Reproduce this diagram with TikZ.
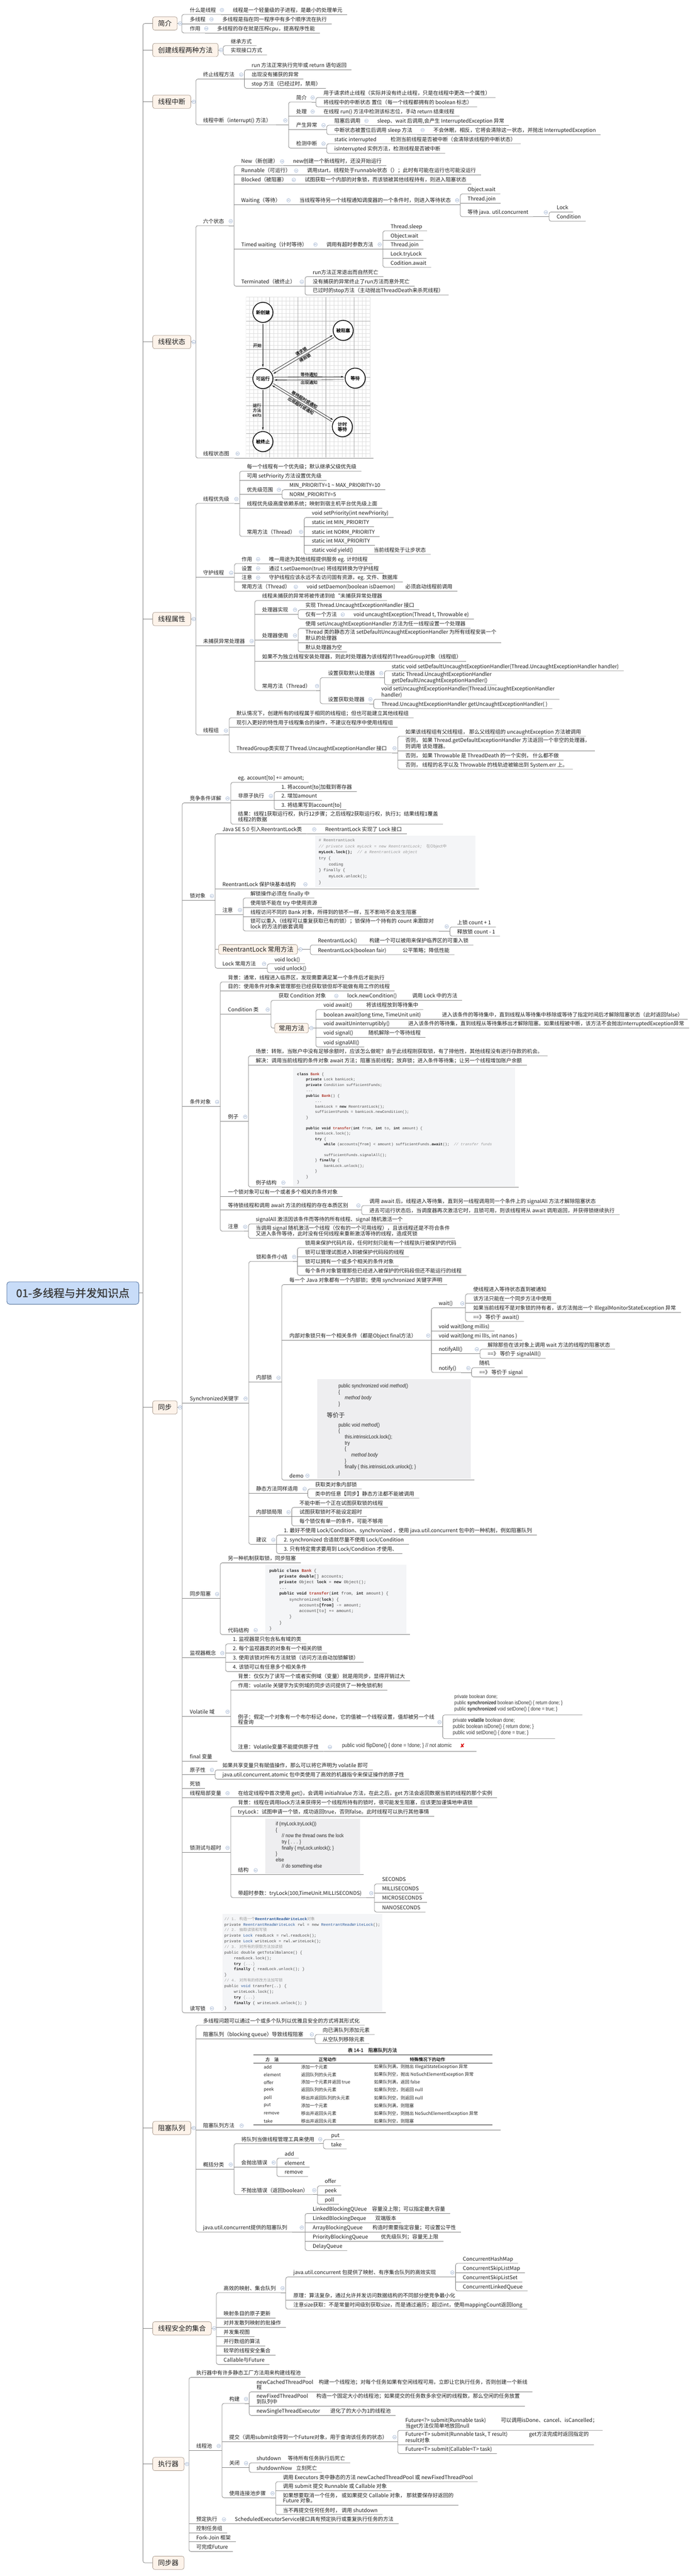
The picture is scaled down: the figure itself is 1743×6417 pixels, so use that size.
\documentclass[tikz,border=0pt]{standalone}
\usepackage{fontspec}
\usetikzlibrary{calc,arrows.meta,shadows}
\newfontfamily\cjk{Noto Sans CJK SC}
\newfontfamily\cjkb[FakeBold=1.2]{Noto Sans CJK SC}
\newfontfamily\mono{Liberation Mono}
\newfontfamily\cond[FakeStretch=0.86]{Liberation Sans}
\newfontfamily\dejavu{DejaVu Sans}
\definecolor{lc}{HTML}{828282}
\definecolor{txt}{HTML}{1E1E1E}
\definecolor{boxfill}{HTML}{FDF3EA}
\definecolor{boxdraw}{HTML}{A8998C}
\definecolor{rootfill}{HTML}{C8DCF8}
\definecolor{rootdraw}{HTML}{50709C}
\definecolor{roottxt}{HTML}{3A3A3A}
\definecolor{clc}{HTML}{9FB3D1}
\definecolor{codebg}{HTML}{F4F5F7}
\definecolor{imgbg}{HTML}{EEEEF0}
\definecolor{codetx}{HTML}{4A4A4A}
\definecolor{codekw}{HTML}{222222}
\definecolor{codecm}{HTML}{9A9A9A}
\definecolor{codecls}{HTML}{B03A2E}
\definecolor{codetype}{HTML}{2F5D9E}
\tikzset{
 tp/.style={inner sep=0pt, anchor=south west, text height=10pt, text depth=3pt, font=\cjk\fontsize{13pt}{14pt}\selectfont, text=txt},
 tpm/.style={inner sep=0pt, anchor=south west, align=left, text depth=3pt, font=\cjk\fontsize{13pt}{13pt}\selectfont, text=txt},
 ln/.style={draw=lc, line width=1pt},
 mainbox/.style={draw=boxdraw, fill=boxfill, rounded corners=5pt, line width=0.9pt, minimum height=33pt, inner xsep=13.5pt, inner ysep=0pt, font=\cjk\fontsize{17pt}{17pt}\selectfont, text=txt, anchor=west},
 subbox/.style={mainbox, minimum height=24pt, inner xsep=10pt, font=\cjk\fontsize{16pt}{16pt}\selectfont},
 rootbox/.style={draw=rootdraw, fill=rootfill, rounded corners=7pt, line width=1.1pt, minimum width=329pt, minimum height=56pt, inner sep=0pt, font=\cjkb\fontsize{27pt}{27pt}\selectfont, text=roottxt},
 code/.style={inner sep=0pt, anchor=north west, align=left, text=codetx},
 stc/.style={circle, draw=black, line width=1.8pt, fill=white, minimum size=50pt, inner sep=0pt, font=\cjkb\fontsize{11.5pt}{12.5pt}\selectfont, align=center, drop shadow={opacity=0.45, shadow xshift=2pt, shadow yshift=-2pt}},
 sta/.style={-{Stealth[length=7pt,width=4pt]}, line width=0.8pt, shorten >=3pt, shorten <=3pt},
 stl/.style={inner sep=1pt, font=\cjkb\fontsize{10.5pt}{12pt}\selectfont, text=black!80},
 tcell/.style={anchor=west, inner sep=0pt, font=\cjk\fontsize{11pt}{12pt}\selectfont, text=black!85},
}
\newcommand\T[4]{\node[tp] (#1) at (#2,#3+8) {#4}; \coordinate (#1-e) at ([xshift=12pt,yshift=-3pt]#1.south east);}
\newcommand\TT[6]{\T{#1}{#2}{#4}{\makebox[\dimexpr#3pt-#2pt\relax][l]{#5}#6}}
\newcommand\M[4]{\node[tpm] (#1) at (#2,#3-3) {#4}; \coordinate (#1-e) at ([xshift=12pt,yshift=-3pt]#1.south east);}
\newcommand\B[3]{\node[mainbox] (#1) at (380,#2) {#3}; \coordinate (#1-e) at (#1.west);}
\newcommand\img[8]{\fill[#6] (#2,#3) rectangle (#4,#5); \coordinate (#1-e) at (#7,#8);}
\newcommand\cl[1]{\path #1 coordinate (tmp); \fill[white] (tmp) circle (4.5pt); \draw[clc, line width=0.8pt] (tmp) circle (4.5pt); \draw[clc, line width=0.9pt] ([xshift=-2.6pt]tmp) -- ([xshift=2.6pt]tmp);}
\newcommand\kids[3]{%
  \coordinate (sp) at (#2,0);
  \draw[ln] (#1) -- (sp |- #1);
  \foreach \c [count=\i] in {#3} {\ifnum\i=1 \xdef\kfirst{\c}\fi \xdef\klast{\c}\xdef\kn{\i}}%
  \ifnum\kn=1\relax
    \draw[ln] (sp |- \kfirst-e) -- (\kfirst-e);
  \else
    \draw[ln, rounded corners=5pt] (\kfirst-e) -- (sp |- \kfirst-e) -- (sp |- \klast-e) -- (\klast-e);
    \foreach \c [count=\i] in {#3} {\ifnum\i>1 \ifnum\i<\kn\relax \draw[ln] (sp |- \c-e) -- (\c-e);\fi\fi}%
  \fi}
\newcommand\ktext[3]{\kids{#1-e}{#2}{#3}\cl{($(sp |- #1-e)+(-8,-11)$)}}
\newcommand\kbox[3]{\kids{#1.east}{#2}{#3}\cl{($(#1.east)+(7,0)$)}}
\newcommand\kw[1]{{\bfseries\color{codekw}#1}}
\newcommand\cn[1]{{\bfseries\color{codecls}#1}}
\newcommand\cm[1]{{\itshape\color{codecm}#1}}
\newcommand\ty[1]{{\color{codetype}#1}}
\newcommand\trow[5]{\node[tcell] (t#1a) at (657,#2) {#3}; \node[tcell] (t#1b) at (750,#2) {#4}; \node[tcell] (t#1c) at (932,#2) {#5};}
\begin{document}
\begin{tikzpicture}[x=1pt,y=-1pt]
\useasboundingbox (0,0) rectangle (1743,6417);
\fill[white] (0,0) rectangle (1743,6417);

% ---------- root and main branches
\node[rootbox] (root) at (181.5,3221) {01-多线程与并发知识点};
\B{jj}{58.5}{简介}
\B{cj}{124.5}{创建线程两种方法}
\B{zd}{253.5}{线程中断}
\B{zt}{852}{线程状态}
\B{sx}{1542}{线程属性}
\B{tb}{3506}{同步}
\B{zs}{5301}{阻塞队列}
\B{aq}{5800}{线程安全的集合}
\B{zx}{6138}{执行器}
\B{tq}{6384}{同步器}
\kids{root.east}{356}{jj,cj,zd,zt,sx,tb,zs,aq,zx,tq}

% ---------- 简介
\T{j1}{473}{25}{什么是线程}
\T{j1a}{580}{25}{线程是一个轻量级的子进程，是最小的处理单元}
\T{j2}{473}{48}{多线程}
\T{j2a}{554}{48}{多线程是指在同一程序中有多个顺序流在执行}
\T{j3}{473}{71}{作用}
\T{j3a}{541}{71}{多线程的存在就是压榨cpu，提高程序性能}
\kbox{jj}{453}{j1,j2,j3}
\ktext{j1}{561}{j1a}
\ktext{j2}{535}{j2a}
\ktext{j3}{522}{j3a}

% ---------- 创建线程两种方法
\T{c1}{575}{103}{继承方式}
\T{c2}{575}{126}{实现接口方式}
\kbox{cj}{556}{c1,c2}

% ---------- 线程中断
\T{b1}{506}{186}{终止线程方法}
\T{b11}{627}{163}{run 方法正常执行完毕或 return 语句返回}
\T{b12}{627}{186}{出现没有捕获的异常}
\T{b13}{627}{209}{stop 方法（已经过时，禁用）}
\T{b2}{506}{300}{线程中断（interrupt() 方法）}
\T{b21}{738}{243}{简介}
\T{b211}{806}{232}{用于请求终止线程（实际并没有终止线程，只是在线程中更改一个属性）}
\T{b212}{806}{255}{将线程中的中断状态 置位（每一个线程都拥有的 boolean 标志）}
\T{b22}{738}{278}{处理}
\T{b221}{806}{278}{在线程 run() 方法中检测该标志位，手动 return 结束线程}
\T{b23}{738}{312}{产生异常}
\T{b231}{833}{301}{阻塞后调用}
\T{b231a}{940}{301}{sleep、wait 后调用,会产生 InterruptedException 异常}
\T{b232}{833}{324}{中断状态被置位后调用 sleep 方法}
\T{b232a}{1080}{324}{不会休眠，相反，它将会清除这一状态，并抛出 InterruptedException}
\T{b24}{738}{358}{检测中断}
\TT{b241}{833}{973}{347}{static interrupted}{检测当前线程是否被中断（会清除该线程的中断状态）}
\T{b242}{833}{371}{isInterrupted 实例方法，检测线程是否被中断}
\kbox{zd}{488}{b1,b2}
\ktext{b1}{609}{b11,b12,b13}
\ktext{b2}{719}{b21,b22,b23,b24}
\ktext{b21}{787}{b211,b212}
\ktext{b22}{787}{b221}
\ktext{b23}{814}{b231,b232}
\ktext{b231}{921}{b231a}
\ktext{b232}{1061}{b232a}
\ktext{b24}{814}{b241,b242}

% ---------- 线程状态
\T{s1}{506}{551}{六个状态}
\T{s11}{601}{402}{New（新创建）}
\T{s11a}{730}{402}{new创建一个新线程时，还没开始运行}
\T{s12}{601}{425}{Runnable（可运行）}
\T{s12a}{765}{425}{调用start，线程处于runnable状态（）；此时有可能在运行也可能没运行}
\T{s13}{601}{448}{Blocked（被阻塞）}
\T{s13a}{759}{448}{试图获取一个内部的对象锁，而该锁被其他线程持有，则进入阻塞状态}
\T{s14}{601}{499}{Waiting（等待）}
\T{s14a}{746}{499}{当线程等待另一个线程通知调度器的一个条件时，则进入等待状态}
\T{s141}{1165}{472}{Object.wait}
\T{s142}{1165}{495}{Thread.join}
\T{s143}{1165}{529}{等待 java. util.concurrent}
\T{s1431}{1387}{517}{Lock}
\T{s1432}{1387}{540}{Condition}
\T{s15}{601}{609}{Timed waiting（计时等待）}
\T{s15a}{813}{609}{调用有超时参数方法}
\T{s151}{973}{564}{Thread.sleep}
\T{s152}{973}{587}{Object.wait}
\T{s153}{973}{609}{Thread.join}
\T{s154}{973}{633}{Lock.tryLock}
\T{s155}{973}{655}{Codition.await}
\T{s16}{601}{702}{Terminated（被终止）}
\T{s161}{779}{678}{run方法正常退出而自然死亡}
\T{s162}{779}{702}{没有捕获的异常终止了run方法而意外死亡}
\T{s163}{779}{724}{已过时的stop方法（主动抛出ThreadDeath来杀死线程）}
\T{s2}{506}{1130}{线程状态图}
% state diagram picture
\img{sd}{613}{740}{923}{1139}{white}{931}{1141}
\begin{scope}
\clip (613,740) rectangle (923,1139);
\foreach \x in {612,622,...,922} \draw[black!12, line width=0.5pt] (\x,740) -- (\x,1139);
\foreach \y in {740,750,...,1139} \draw[black!12, line width=0.5pt] (613,\y) -- (923,\y);
\foreach \x in {672,742,812,882} \draw[black!30, line width=0.8pt] (\x,740) -- (\x,1139);
\foreach \y in {800,870,940,1010,1080} \draw[black!30, line width=0.8pt] (613,\y) -- (923,\y);
\end{scope}
\node[stc] (sn1) at (655,778) {新创建};
\node[stc] (sn2) at (855,823) {被阻塞};
\node[stc] (sn3) at (655,943) {可运行};
\node[stc] (sn4) at (885,942) {等待};
\node[stc] (sn5) at (853,1063) {计时\\等待};
\node[stc] (sn6) at (655,1100) {被终止};
\draw[sta] (sn1) -- node[stl, left=2pt] (sl0) {开始} (sn3);
\draw[sta] (sn3.38) -- node[stl, midway, sloped, above] (sl1) {请求锁} (sn2.204);
\draw[sta] (sn2.218) -- node[stl, midway, sloped, below] (sl2) {得到锁} (sn3.24);
\draw[sta] (sn3.8) -- node[stl, midway, above] (sl3) {等待通知} (sn4.172);
\draw[sta] (sn4.188) -- node[stl, midway, below] (sl4) {出现通知} (sn3.352);
\draw[sta] (sn3.-25) -- node[stl, midway, sloped, above] (sl5) {等待超时或通知} (sn5.143);
\draw[sta] (sn5.155) -- node[stl, midway, sloped, below] (sl6) {出现超时或通知} (sn3.-37);
\draw[sta] (sn3) -- node[stl, left=2pt, align=center] (sl7) {运行\\方法\\exits} (sn6);
\kbox{zt}{488}{s1,s2}
\ktext{s1}{583}{s11,s12,s13,s14,s15,s16}
\ktext{s11}{711}{s11a}
\ktext{s12}{746}{s12a}
\ktext{s13}{740}{s13a}
\ktext{s14}{727}{s14a}
\ktext{s14a}{1147}{s141,s142,s143}
\ktext{s143}{1368}{s1431,s1432}
\ktext{s15}{794}{s15a}
\ktext{s15a}{954}{s151,s152,s153,s154,s155}
\ktext{s16}{760}{s161,s162,s163}
\ktext{s2}{600}{sd}

% ---------- 线程属性
\T{d1}{506}{1243}{线程优先级}
\T{d11}{615}{1163}{每一个线程有一个优先级；默认继承父级优先级}
\T{d12}{615}{1186}{可用 setPriority 方法设置优先级}
\T{d13}{615}{1220}{优先级范围}
\T{d131}{721}{1209}{MIN\_PRIORITY=1 \textasciitilde{} MAX\_PRIORITY=10}
\T{d132}{721}{1232}{NORM\_PRIORITY=5}
\T{d14}{615}{1255}{线程优先级高度依赖系统；映射到宿主机平台优先级上面}
\T{d15}{615}{1325}{常用方法（Thread）}
\T{d151}{777}{1278}{void setPriority(int newPriority)}
\T{d152}{777}{1301}{static int MIN\_PRIORITY}
\T{d153}{777}{1325}{static int NORM\_PRIORITY}
\T{d154}{777}{1347}{static int MAX\_PRIORITY}
\TT{d155}{777}{931}{1370}{static void yield()}{当前线程处于让步状态}
\T{d2}{506}{1427}{守护线程}
\T{d21}{602}{1393}{作用}
\T{d21a}{670}{1393}{唯一用途为其他线程提供服务 eg. 计时线程}
\T{d22}{602}{1416}{设置}
\T{d22a}{670}{1416}{通过 t.setDaemon(true) 将线程转换为守护线程}
\T{d23}{602}{1439}{注意}
\T{d23a}{670}{1439}{守护线程应该永远不去访问固有资源，eg. 文件、数据库}
\T{d24}{602}{1462}{常用方法（Thread）}
\TT{d24a}{764}{1010}{1462}{void setDaemon(boolean isDaemon)}{必须启动线程前调用}
\T{d3}{506}{1597}{未捕获异常处理器}
\T{d31}{653}{1485}{线程未捕获的异常将被传递到给“未捕获异常处理器}
\T{d32}{653}{1519}{处理器实现}
\T{d321}{761}{1508}{实现 Thread.UncaughtExceptionHandler 接口}
\T{d322}{761}{1531}{仅有一个方法}
\T{d322a}{881}{1531}{void uncaughtException(Thread t, Throwable e)}
\T{d33}{653}{1583}{处理器使用}
\T{d331}{761}{1554}{使用 setUncaughtExceptionHandler 方法为任一线程设置一个处理器}
\M{d332}{761}{1601}{Thread 类的静态方法 setDefaultUncaughtExceptionHandler 为所有线程安装一个\\默认的处理器}
\T{d333}{761}{1613}{默认处理器为空}
\T{d34}{653}{1636}{如果不为独立线程安装处理器，则此时处理器为该线程的ThreadGroup对象（线程组）}
\T{d35}{653}{1709}{常用方法（Thread）}
\T{d351}{817}{1677}{设置获取默认处理器}
\T{d3511}{976}{1660}{static void setDefaultUncaughtExceptionHandler(Thread.UncaughtExceptionHandler handler)}
\M{d3512}{976}{1706}{static Thread.UncaughtExceptionHandler\\getDefaultUncaughtExceptionHandler()}
\T{d352}{817}{1742}{设置获取处理器}
\M{d3521}{950}{1742}{void setUncaughtExceptionHandler(Thread.UncaughtExceptionHandler\\handler)}
\T{d3522}{950}{1754}{Thread.UncaughtExceptionHandler getUncaughtExceptionHandler( )}
\T{d4}{506}{1820}{线程组}
\T{d41}{589}{1777}{默认情况下，创建所有的线程属于相同的线程组；但也可能建立其他线程组}
\T{d42}{589}{1800}{现引入更好的特性用于线程集合的操作，不建议在程序中使用线程组}
\T{d43}{589}{1864}{ThreadGroup类实现了Thread.UncaughtExceptionHandler 接口}
\T{d431}{1010}{1823}{如果该线程组有父线程组， 那么父线程组的 uncaughtException 方法被调用}
\M{d432}{1010}{1870}{否则， 如果 Thread.getDefaultExceptionHandler 方法返回一个非空的处理器，\\则调用 该处理器。}
\T{d433}{1010}{1882}{否则， 如果 Throwable 是 ThreadDeath 的一个实例， 什么都不做}
\T{d434}{1010}{1905}{否则， 线程的名字以及 Throwable 的栈轨迹被输出到 System.err 上。}
\kbox{sx}{488}{d1,d2,d3,d4}
\ktext{d1}{597}{d11,d12,d13,d14,d15}
\ktext{d13}{703}{d131,d132}
\ktext{d15}{758}{d151,d152,d153,d154,d155}
\ktext{d2}{584}{d21,d22,d23,d24}
\ktext{d21}{651}{d21a}
\ktext{d22}{651}{d22a}
\ktext{d23}{651}{d23a}
\ktext{d24}{745}{d24a}
\ktext{d3}{635}{d31,d32,d33,d34,d35}
\ktext{d32}{743}{d321,d322}
\ktext{d322}{862}{d322a}
\ktext{d33}{743}{d331,d332,d333}
\ktext{d35}{798}{d351,d352}
\ktext{d351}{958}{d3511,d3512}
\ktext{d352}{931}{d3521,d3522}
\ktext{d4}{571}{d41,d42,d43}
\ktext{d43}{991}{d431,d432,d433,d434}

% ---------- 同步 : 竞争条件详解
\T{e1}{473}{1989}{竞争条件详解}
\T{e1a}{593}{1938}{eg. account[to] += amount;}
\T{e1b}{593}{1983}{非原子执行}
\T{e1b1}{701}{1961}{1. 将account[to]加载到寄存器}
\T{e1b2}{701}{1983}{2. 增加amount}
\T{e1b3}{701}{2006}{3. 将结果写到account[to]}
\M{e1c}{593}{2053}{结果：线程1获取运行权，执行12步骤；之后线程2获取运行权，执行3；结果线程1覆盖\\线程2的数据}
\ktext{e1}{575}{e1a,e1b,e1c}
\ktext{e1b}{683}{e1b1,e1b2,e1b3}

% ---------- 锁对象
\T{e2}{473}{2232}{锁对象}
\T{e2a}{554}{2066}{Java SE 5.0 引入ReentrantLock类}
\T{e2a1}{810}{2066}{ReentrantLock 实现了 Lock 接口}
\T{e2b}{554}{2203}{ReentrantLock 保护块基本结构}
\img{rl}{785}{2082}{1184}{2210}{codebg}{1194}{2214}
\node[code, font=\mono\fontsize{10pt}{15pt}\selectfont] (rlt) at (794,2089) {{\bfseries\color{codecm}\# ReentrantLock}\\
\cm{// private Lock myLock = new ReentrantLock;}\quad{\cjk\color{codecm}在Object中}\\
\kw{myLock.lock();}\ \ \cm{// a ReentrantLock object}\\
try \{\\
\hspace*{25pt}coding\\
\} finally \{\\
\hspace*{25pt}myLock.unlock();\\
\}};
\T{e2c}{554}{2267}{注意}
\T{e2c1}{624}{2226}{解锁操作必须在 finally 中}
\T{e2c2}{624}{2249}{使用锁不能在 try 中使用资源}
\T{e2c3}{624}{2272}{线程访问不同的 Bank 对象，所得到的锁不一样，互不影响不会发生阻塞}
\M{e2c4}{624}{2319}{锁可以重入（线程可以重复获取已有的锁）；锁保持一个持有的 count 来跟踪对\\lock 的方法的嵌套调用}
\T{e2c41}{1139}{2298}{上锁 count + 1}
\T{e2c42}{1139}{2321}{释放锁 count - 1}
\node[subbox] (e2d) at (544,2365) {ReentrantLock 常用方法};
\coordinate (e2d-e) at (e2d.west);
\TT{e2d1}{792}{920}{2343}{ReentrantLock()}{构建一个可以被用来保护临界区的可重入锁}
\TT{e2d2}{792}{1003}{2367}{ReentrantLock(boolean fair)}{公平策略；降低性能}
\T{e2e}{554}{2401}{Lock 常用方法}
\T{e2e1}{684}{2390}{void lock()}
\T{e2e2}{684}{2412}{void unlock()}
\ktext{e2}{536}{e2a,e2b,e2c,e2d,e2e}
\ktext{e2a}{791}{e2a1}
\ktext{e2b}{769}{rl}
\ktext{e2c}{606}{e2c1,e2c2,e2c3,e2c4}
\ktext{e2c4}{1121}{e2c41,e2c42}
\kbox{e2d}{773}{e2d1,e2d2}
\ktext{e2e}{666}{e2e1,e2e2}

% ---------- 条件对象
\T{e3}{473}{2745}{条件对象}
\T{e3a}{568}{2435}{背景：通常，线程进入临界区，发现需要满足某一个条件后才能执行}
\T{e3b}{568}{2458}{目的：使用条件对象来管理那些已经获取锁但却不能做有用工作的线程}
\T{e3c}{568}{2515}{Condition 类}
\T{e3c1}{694}{2481}{获取 Condition 对象}
\TT{e3c1a}{865}{1027}{2481}{lock.newCondition()}{调用 Lock 中的方法}
\node[subbox] (e3c2) at (684,2561) {常用方法};
\coordinate (e3c2-e) at (e3c2.west);
\TT{e3c21}{806}{912}{2504}{void await()}{将该线程放到等待集中}
\TT{e3c22}{806}{1101}{2528}{boolean await(long time, TimeUnit unit)}{进入该条件的等待集中，直到线程从等待集中移除或等待了指定时间后才解除阻塞状态（此时返回false）}
\TT{e3c23}{806}{1017}{2550}{void awaitUninterruptibly()}{进入该条件的等待集，直到线程从等待集移出才解除阻塞。如果线程被中断，该方法不会抛出InterruptedException异常}
\TT{e3c24}{806}{918}{2573}{void signal()}{随机解除一个等待线程}
\T{e3c25}{806}{2597}{void signalAll()}
\T{e3d}{568}{2782}{例子}
\T{e3d1}{637}{2619}{场景：转账，当账户中没有足够余额时，应该怎么做呢？由于此线程刚获取锁，有了排他性，其他线程没有进行存款的机会。}
\T{e3d2}{637}{2642}{解决：调用当前线程的条件对象 await 方法；阻塞当前线程；放弃锁；进入条件等待集；让另一个线程增加账户余额}
\T{e3d3}{637}{2946}{例子结构}
\img{bank}{730}{2659}{1284}{2954}{codebg}{1292}{2957}
\node[code, font=\mono\fontsize{9.3pt}{13.44pt}\selectfont] (bankt) at (740,2672) {\kw{class} \cn{Bank} \{\\
\hspace*{22.4pt}\kw{private} Lock bankLock;\\
\hspace*{22.4pt}\kw{private} Condition sufficientFunds;\\
\hspace*{22.4pt}...\\
\hspace*{22.4pt}\kw{public} \cn{Bank}() \{\\
\hspace*{44.8pt}...\\
\hspace*{44.8pt}bankLock = \kw{new} ReentrantLock();\\
\hspace*{44.8pt}sufficientFunds = bankLock.newCondition();\\
\hspace*{22.4pt}\}\\
\mbox{}\\
\hspace*{22.4pt}\kw{public void} \cn{transfer}(\kw{int} from, \kw{int} to, \kw{int} amount) \{\\
\hspace*{44.8pt}bankLock.lock();\\
\hspace*{44.8pt}\kw{try} \{\\
\hspace*{67.2pt}\kw{while} (accounts[from] < amount) sufficientFunds.\kw{await}();\ \ \cm{// transfer funds}\\
\mbox{}\\
\hspace*{67.2pt}sufficientFunds.signalAll();\\
\hspace*{44.8pt}\} \kw{finally} \{\\
\hspace*{67.2pt}bankLock.unlock();\\
\hspace*{44.8pt}\}\\
\hspace*{22.4pt}\}\\
\}};
\T{e3e}{568}{2969}{一个锁对象可以有一个或者多个相关的条件对象}
\T{e3f}{568}{3003}{等待锁线程和调用 await 方法的线程的存在本质区别}
\T{e3f1}{920}{2992}{调用 await 后，线程进入等待集，直到另一线程调用同一个条件上的 signalAll 方法才解除阻塞状态}
\T{e3f2}{920}{3015}{进去可运行状态后，当调度器再次激活它时，且锁可用，则该线程将从 await 调用返回，并获得锁继续执行}
\T{e3g}{568}{3056}{注意}
\T{e3g1}{637}{3038}{signalAll 激活因该条件而等待的所有线程、signal 随机激活一个}
\M{e3g2}{637}{3085}{当调用 signal 随机激活一个线程（仅有的一个可用线程），且该线程还是不符合条件\\又进入条件等待，此时没有任何线程来重新激活等待的线程，造成死锁}
\ktext{e3}{549}{e3a,e3b,e3c,e3d,e3e,e3f,e3g}
\ktext{e3c}{675}{e3c1,e3c2}
\ktext{e3c1}{846}{e3c1a}
\kbox{e3c2}{787}{e3c21,e3c22,e3c23,e3c24,e3c25}
\ktext{e3d}{619}{e3d1,e3d2,e3d3}
\ktext{e3d3}{714}{bank}
\ktext{e3f}{901}{e3f1,e3f2}
\ktext{e3g}{619}{e3g1,e3g2}

% ---------- Synchronized关键字
\T{e4}{473}{3484}{Synchronized关键字}
\T{e4a}{638}{3131}{锁和条件小结}
\T{e4a1}{760}{3097}{锁用来保护代码片段，任何时刻只能有一个线程执行被保护的代码}
\T{e4a2}{760}{3120}{锁可以管理试图进入到被保护代码段的线程}
\T{e4a3}{760}{3143}{锁可以拥有一个或多个相关的条件对象}
\T{e4a4}{760}{3166}{每个条件对象管理那些已经进入被保护的代码段但还不能运行的线程}
\T{e4b}{638}{3432}{内部锁}
\T{e4b1}{721}{3189}{每一个 Java 对象都有一个内部锁；使用 synchronized 关键字声明}
\T{e4b2}{721}{3327}{内部对象锁只有一个相关条件（都是Object final方法）}
\T{w1}{1093}{3247}{wait()}
\T{w11}{1179}{3212}{使线程进入等待状态直到被通知}
\T{w12}{1179}{3235}{该方法只能在一个同步方法中使用}
\T{w13}{1179}{3258}{如果当前线程不是对象锁的持有者，该方法抛出一个 IllegalMonitorStateException 异常}
\T{w14}{1179}{3281}{==》 等价于 await()}
\T{w2}{1093}{3305}{void wait(long millis)}
\T{w3}{1093}{3327}{void wait(long mi llIs, int nanos )}
\T{w4}{1093}{3361}{notifyAll()}
\T{w41}{1215}{3350}{解除那些在该对象上调用 wait 方法的线程的阻塞状态}
\T{w42}{1215}{3373}{==》 等价于 signalAll()}
\T{w5}{1093}{3408}{notify()}
\T{w51}{1194}{3396}{随机}
\T{w52}{1194}{3419}{==》 等价于 signal}
\T{e4b3}{721}{3676}{demo}
\img{demo}{790}{3435}{1173}{3683}{imgbg}{1182}{3687}
\node[code, font=\cond\fontsize{13.3pt}{15pt}\selectfont, text=black!85] (demot1) at (843,3447) {public synchronized void {\itshape method}()\\
\{\\
\hspace*{16pt}{\itshape method body}\\
\}};
\node[anchor=west, inner sep=0pt, font=\cjk\fontsize{15pt}{15pt}\selectfont, text=black!85] (dengjia) at (814,3525) {等价于};
\node[code, font=\cond\fontsize{13.3pt}{15pt}\selectfont, text=black!85] (demot2) at (843,3544) {public void {\itshape method}()\\
\{\\
\hspace*{16pt}this.intrinsicLock.lock();\\
\hspace*{16pt}try\\
\hspace*{16pt}\{\\
\hspace*{32pt}{\itshape method body}\\
\hspace*{16pt}\}\\
\hspace*{16pt}finally \{ this.intrinsicLock.unlock(); \}\\
\}};
\T{e4c}{638}{3709}{静态方法同样适用}
\T{e4c1}{785}{3698}{获取类对象内部锁}
\T{e4c2}{785}{3721}{类中的任意【同步】静态方法都不能被调用}
\T{e4d}{638}{3767}{内部锁局限}
\T{e4d1}{746}{3744}{不能中断一个正在试图获取锁的线程}
\T{e4d2}{746}{3767}{试图获取锁时不能设定超时}
\T{e4d3}{746}{3790}{每个锁仅有单一的条件，可能不够用}
\T{e4e}{638}{3836}{建议}
\T{e4e1}{707}{3813}{1. 最好不使用 Lock/Condition、synchronized ，使用 java.util.concurrent 包中的一种机制，例如阻塞队列}
\T{e4e2}{707}{3836}{2. synchronized 合适就尽量不使用 Lock/Condition}
\T{e4e3}{707}{3859}{3. 只有特定需求要用到 Lock/Condition 才使用、}
\ktext{e4}{620}{e4a,e4b,e4c,e4d,e4e}
\ktext{e4a}{741}{e4a1,e4a2,e4a3,e4a4}
\ktext{e4b}{702}{e4b1,e4b2,e4b3}
\ktext{e4b2}{1075}{w1,w2,w3,w4,w5}
\ktext{w1}{1160}{w11,w12,w13,w14}
\ktext{w4}{1196}{w41,w42}
\ktext{w5}{1175}{w51,w52}
\ktext{e4b3}{774}{demo}
\ktext{e4c}{767}{e4c1,e4c2}
\ktext{e4d}{727}{e4d1,e4d2,e4d3}
\ktext{e4e}{689}{e4e1,e4e2,e4e3}

% ---------- 同步阻塞 .. 读写锁
\T{e5}{473}{3971}{同步阻塞}
\T{e5a}{568}{3882}{另一种机制获取锁，同步阻塞}
\T{e5b}{568}{4061}{代码结构}
\img{sbank}{661}{3898}{1012}{4071}{codebg}{1022}{4072}
\node[code, font=\mono\fontsize{10.3pt}{14.4pt}\selectfont] (sbt) at (671,3908) {\kw{public class} \cn{Bank} \{\\
\hspace*{24.8pt}\kw{private double}[] accounts;\\
\hspace*{24.8pt}\kw{private} Object \kw{lock} = \kw{new} Object();\\
\hspace*{24.8pt}...\\
\hspace*{24.8pt}\kw{public void} \cn{transfer}(\kw{int} from, \kw{int} amount) \{\\
\hspace*{49.6pt}synchronized(\kw{lock}) \{\\
\hspace*{74.4pt}accounts\kw{[from]} -= amount;\\
\hspace*{74.4pt}account[to] += amount;\\
\hspace*{49.6pt}\}\\
\hspace*{24.8pt}\}\\
\}};
\T{e6}{473}{4118}{监视器概念}
\T{e6a}{580}{4084}{1. 监视器是只包含私有域的类}
\T{e6b}{580}{4107}{2. 每个监视器类的对象有一个相关的锁}
\T{e6c}{580}{4130}{3. 使用该锁对所有方法就锁（访问方法自动加锁解锁）}
\T{e6d}{580}{4153}{4. 该锁可以有任意多个相关条件}
\T{e7}{473}{4264}{Volatile 域}
\T{e7a}{593}{4176}{背景：仅仅为了读写一个或者实例域（变量）就是用同步，显得开销过大}
\T{e7b}{593}{4199}{作用：volatile 关键字为实例域的同步访问提供了一种免锁机制}
\M{e7c}{593}{4301}{例子：假定一个对象有一个布尔标记 done，它的值被一个线程设置，值却被另一个线\\程查询}
\img{vo1}{1108}{4216}{1451}{4272}{white}{1451}{4272}
\node[code, font=\cond\fontsize{13pt}{15.5pt}\selectfont, text=black!80] (vo1t) at (1132,4221) {private boolean done;\\
public {\bfseries synchronized} boolean isDone() \{ return done; \}\\
public {\bfseries synchronized} void setDone() \{ done = true; \}};
\img{vo2}{1108}{4279}{1383}{4331}{white}{1383}{4331}
\node[code, font=\cond\fontsize{13.5pt}{15.5pt}\selectfont, text=black!80] (vo2t) at (1128,4280) {private {\bfseries volatile} boolean done;\\
public boolean isDone() \{ return done; \}\\
public void setDone() \{ done = true; \}};
\T{e7d}{593}{4352}{注意：Volatile变量不能提供原子性}
\img{flip}{846}{4338}{1186}{4362}{white}{1187}{4363}
\node[anchor=west, inner sep=0pt, font=\cond\fontsize{14pt}{14pt}\selectfont, text=black!80] (flipt) at (852,4349) {public void flipDone() \{ done = !done; \} // not atomic};
\node[anchor=west, inner sep=0pt, font=\dejavu\fontsize{14pt}{14pt}\selectfont, text=red!85!black] (flipx) at (1146,4349) {✘};
\T{e8}{473}{4376}{final 变量}
\T{e9}{473}{4409}{原子性}
\T{e9a}{554}{4398}{如果共享变量只有赋值操作，那么可以将它声明为 volatile 即可}
\T{e9b}{554}{4421}{java.util.concurrent.atomic 包中类使用了高效的机器指令来保证操作的原子性}
\T{e10}{473}{4444}{死锁}
\T{e11}{473}{4467}{线程局部变量}
\T{e11a}{593}{4467}{在给定线程中首次使用 get()，会调用 initialValue 方法，在此之后，get 方法会返回数据当前的线程的那个实例}
\T{e12}{473}{4603}{锁测试与超时}
\T{e12a}{593}{4490}{背景：线程在调用lock方法来获得另一个线程所持有的锁时，很可能发生阻塞，应该更加谨慎地申请锁}
\T{e12b}{593}{4513}{tryLock：试图申请一个锁，成功返回true，否则false。此时线程可以执行其他事情}
\T{e12c}{593}{4659}{结构}
\img{tl}{661}{4530}{897}{4668}{imgbg}{906}{4670}
\node[code, font=\cond\fontsize{13pt}{15pt}\selectfont, text=black!85] (tlt) at (687,4538) {if (myLock.tryLock())\\
\{\\
\hspace*{15pt}// now the thread owns the lock\\
\hspace*{15pt}try \{ . . . \}\\
\hspace*{15pt}finally \{ myLock.unlock(); \}\\
\}\\
else\\
\hspace*{15pt}// do something else};
\T{e12d}{593}{4716}{带超时参数：tryLock(100,TimeUnit.MILLISECONDS)}
\T{e12d1}{952}{4682}{SECONDS}
\T{e12d2}{952}{4705}{MILLISECONDS}
\T{e12d3}{952}{4728}{MICROSECONDS}
\T{e12d4}{952}{4752}{NANOSECONDS}
\T{e13}{473}{5003}{读写锁}
\img{rw}{554}{4768}{952}{5010}{codebg}{961}{5014}
\node[code, font=\mono\fontsize{9.8pt}{13.93pt}\selectfont] (rwt) at (559,4775) {{\color{codecm}// 1. {\cjk 构造一个}}{\bfseries\color{codetype}ReentrantReadWriteLock}{\cjk\color{codecm}对象}\\
private \ty{ReentrantReadWriteLock} rwl = new \ty{ReentrantReadWriteLock}();\\
{\color{codecm}// 2. {\cjk 抽取读锁和写锁}}\\
private \ty{Lock} readLock = rwl.readLock();\\
private \ty{Lock} writeLock = rwl.writeLock();\\
{\color{codecm}// 3. {\cjk 对所有的获取方法加读锁}}\\
public double getTotalBalance() \{\\
\hspace*{23.5pt}readLock.lock();\\
\hspace*{23.5pt}\kw{try} {\color{codecm}\{...\}}\\
\hspace*{23.5pt}\kw{finally} \{ readLock.unlock(); \}\\
\}\\
{\color{codecm}// 4. {\cjk 对所有的修改方法加写锁}}\\
public \ty{void} transfer(..) \{\\
\hspace*{23.5pt}writeLock.lock();\\
\hspace*{23.5pt}\kw{try} {\color{codecm}\{...\}}\\
\hspace*{23.5pt}\kw{finally} \{ writeLock.unlock(); \}\\
\}};
\kbox{tb}{454}{e1,e2,e3,e4,e5,e6,e7,e8,e9,e10,e11,e12,e13}
\ktext{e5}{549}{e5a,e5b}
\ktext{e5b}{645}{sbank}
\ktext{e6}{562}{e6a,e6b,e6c,e6d}
\ktext{e7}{575}{e7a,e7b,e7c,e7d}
\ktext{e7c}{1103}{vo1,vo2}
\ktext{e7d}{830}{flip}
\ktext{e9}{536}{e9a,e9b}
\ktext{e11}{575}{e11a}
\ktext{e12}{575}{e12a,e12b,e12c,e12d}
\ktext{e12c}{645}{tl}
\ktext{e12d}{933}{e12d1,e12d2,e12d3,e12d4}
\ktext{e13}{536}{rw}

% ---------- 阻塞队列
\T{f1}{506}{5034}{多线程问题可以通过一个或多个队列以优雅且安全的方式将其形式化}
\T{f2}{506}{5068}{阻塞队列（blocking queue）导致线程阻塞}
\T{f2a}{804}{5057}{向已满队列添加元素}
\T{f2b}{804}{5080}{从空队列移除元素}
\T{f3}{506}{5295}{阻塞队列方法}
\img{tab}{632}{5099}{1227}{5293}{white}{1248}{5306}
\node[inner sep=0pt, font=\cjkb\fontsize{12pt}{12pt}\selectfont, text=black!85] (ttl) at (928,5107) {表 14-1\quad 阻塞队列方法};
\draw[black!85, line width=1.3pt] (632,5119) -- (1227,5119);
\node[inner sep=0pt, font=\cjkb\fontsize{11pt}{12pt}\selectfont, text=black!85] (th1) at (678,5130) {方\quad 法};
\node[inner sep=0pt, font=\cjkb\fontsize{11pt}{12pt}\selectfont, text=black!85] (th2) at (816,5130) {正常动作};
\node[inner sep=0pt, font=\cjkb\fontsize{11pt}{12pt}\selectfont, text=black!85] (th3) at (1065,5130) {特殊情况下的动作};
\draw[black!85, line width=0.6pt] (632,5139) -- (1227,5139);
\trow{1}{5149}{add}{添加一个元素}{如果队列满，则抛出 IllegalStateException 异常}
\trow{2}{5168}{element}{返回队列的头元素}{如果队列空，抛出 NoSuchElementException 异常}
\trow{3}{5187}{offer}{添加一个元素并返回 true}{如果队列满，返回 false}
\trow{4}{5206}{peek}{返回队列的头元素}{如果队列空，则返回 null}
\trow{5}{5226}{poll}{移出并返回队列的头元素}{如果队列空，则返回 null}
\trow{6}{5245}{put}{添加一个元素}{如果队列满，则阻塞}
\trow{7}{5265}{remove}{移出并返回头元素}{如果队列空，则抛出 NoSuchElementException 异常}
\trow{8}{5284}{take}{移出并返回头元素}{如果队列空，则阻塞}
\draw[black!85, line width=1.3pt] (632,5293) -- (1227,5293);
\T{f4}{506}{5392}{概括分类}
\T{f4a}{601}{5329}{将队列当做线程管理工具来使用}
\T{f4a1}{825}{5319}{put}
\T{f4a2}{825}{5342}{take}
\T{f4b}{601}{5387}{会抛出错误}
\T{f4b1}{709}{5365}{add}
\T{f4b2}{709}{5388}{element}
\T{f4b3}{709}{5411}{remove}
\T{f4c}{601}{5456}{不抛出错误（返回boolean）}
\T{f4c1}{809}{5434}{offer}
\T{f4c2}{809}{5457}{peek}
\T{f4c3}{809}{5480}{poll}
\T{f5}{506}{5549}{java.util.concurrent提供的阻塞队列}
\TT{f5a}{779}{927}{5503}{LinkedBlockingQUeue}{容量没上限；可以指定最大容量}
\TT{f5b}{779}{935}{5526}{LinkedBlockingDeque}{双端版本}
\TT{f5c}{779}{928}{5549}{ArrayBlockingQueue}{构造时需要指定容量；可设置公平性}
\TT{f5d}{779}{949}{5572}{PriorityBlockingQueue}{优先级队列；容量无上限}
\T{f5e}{779}{5595}{DelayQueue}
\kbox{zs}{488}{f1,f2,f3,f4,f5}
\ktext{f2}{785}{f2a,f2b}
\ktext{f3}{610}{tab}
\ktext{f4}{583}{f4a,f4b,f4c}
\ktext{f4a}{806}{f4a1,f4a2}
\ktext{f4b}{690}{f4b1,f4b2,f4b3}
\ktext{f4c}{791}{f4c1,f4c2,f4c3}
\ktext{f5}{760}{f5a,f5b,f5c,f5d,f5e}

% ---------- 线程安全的集合
\T{g1}{557}{5700}{高效的映射、集合队列}
\T{g1a}{731}{5661}{java.util.concurrent 包提供了映射、有序集合队列的高效实现}
\T{g1a1}{1153}{5627}{ConcurrentHashMap}
\T{g1a2}{1153}{5650}{ConcurrentSkipListMap}
\T{g1a3}{1153}{5673}{ConcurrentSkipListSet}
\T{g1a4}{1153}{5696}{ConcurrentLinkedQueue}
\T{g1b}{731}{5718}{原理：算法复杂，通过允许并发访问数据结构的不同部分使竞争最小化}
\T{g1c}{731}{5741}{注意size获取：不是常量时间级别获取size，而是通过遍历；超过int，使用mappingCount返回long}
\T{g2}{557}{5764}{映射条目的原子更新}
\T{g3}{557}{5787}{对并发散列映射的批操作}
\T{g4}{557}{5810}{并发集视图}
\T{g5}{557}{5833}{并行数组的算法}
\T{g6}{557}{5856}{较早的线程安全集合}
\T{g7}{557}{5879}{Callable与Future}
\kbox{aq}{539}{g1,g2,g3,g4,g5,g6,g7}
\ktext{g1}{712}{g1a,g1b,g1c}
\ktext{g1a}{1135}{g1a1,g1a2,g1a3,g1a4}

% ---------- 执行器
\T{h1}{489}{5911}{执行器中有许多静态工厂方法用来构建线程池}
\T{h2}{489}{6093}{线程池}
\T{h2a}{571}{5976}{构建}
\M{h2a1}{639}{5958}{\makebox[155pt][l]{newCachedThreadPool}构建一个线程池；对每个任务如果有空闲线程可用，立即让它执行任务，否则创建一个新线\\程}
\M{h2a2}{639}{5994}{\makebox[149pt][l]{newFixedThreadPool}构造一个固定大小的线程池；如果提交的任务数多余空闲的线程数，那么空闲的任务放置\\到队列中}
\TT{h2a3}{639}{823}{6006}{newSingleThreadExecutor}{退化了的大小为1的线程池}
\T{h2b}{571}{6071}{提交（调用submit会得到一个Future对象，用于查询该任务的状态）}
\M{h2b1}{1010}{6054}{\makebox[238pt][l]{Future<?> submit(Runnable task)}可以调用isDone、cancel、isCancelled；\\当get方法仅简单地放回null}
\M{h2b2}{1010}{6090}{\makebox[308pt][l]{Future<T> submit(Runnable task, T result)}get方法完成时返回指定的\\result对象}
\T{h2b3}{1010}{6101}{Future<T> submit(Callable<T> task)}
\T{h2c}{571}{6136}{关闭}
\TT{h2c1}{639}{717}{6124}{shutdown}{等待所有任务执行后死亡}
\TT{h2c2}{639}{738}{6148}{shutdownNow}{立刻死亡}
\T{h2d}{571}{6211}{使用连接池步骤}
\T{h2d1}{705}{6171}{调用 Executors 类中静态的方法 newCachedThreadPool 或 newFixedThreadPool}
\T{h2d2}{705}{6193}{调用 submit 提交 Runnable 或 Callable 对象}
\M{h2d3}{705}{6240}{如果想要取消一个任务， 或如果提交 Callable 对象， 那就要保存好返回的\\Future 对象。}
\T{h2d4}{705}{6253}{当不再提交任何任务时， 调用 shutdown}
\T{h3}{489}{6276}{预定执行}
\T{h3a}{585}{6276}{ScheduledExecutorService接口具有预定执行或重复执行任务的方法}
\T{h4}{489}{6298}{控制任务组}
\T{h5}{489}{6321}{Fork-Join 框架}
\T{h6}{489}{6345}{可完成Future}
\kbox{zx}{471}{h1,h2,h3,h4,h5,h6}
\ktext{h2}{553}{h2a,h2b,h2c,h2d}
\ktext{h2a}{621}{h2a1,h2a2,h2a3}
\ktext{h2b}{991}{h2b1,h2b2,h2b3}
\ktext{h2c}{621}{h2c1,h2c2}
\ktext{h2d}{687}{h2d1,h2d2,h2d3,h2d4}
\ktext{h3}{566}{h3a}
\end{tikzpicture}
\end{document}
